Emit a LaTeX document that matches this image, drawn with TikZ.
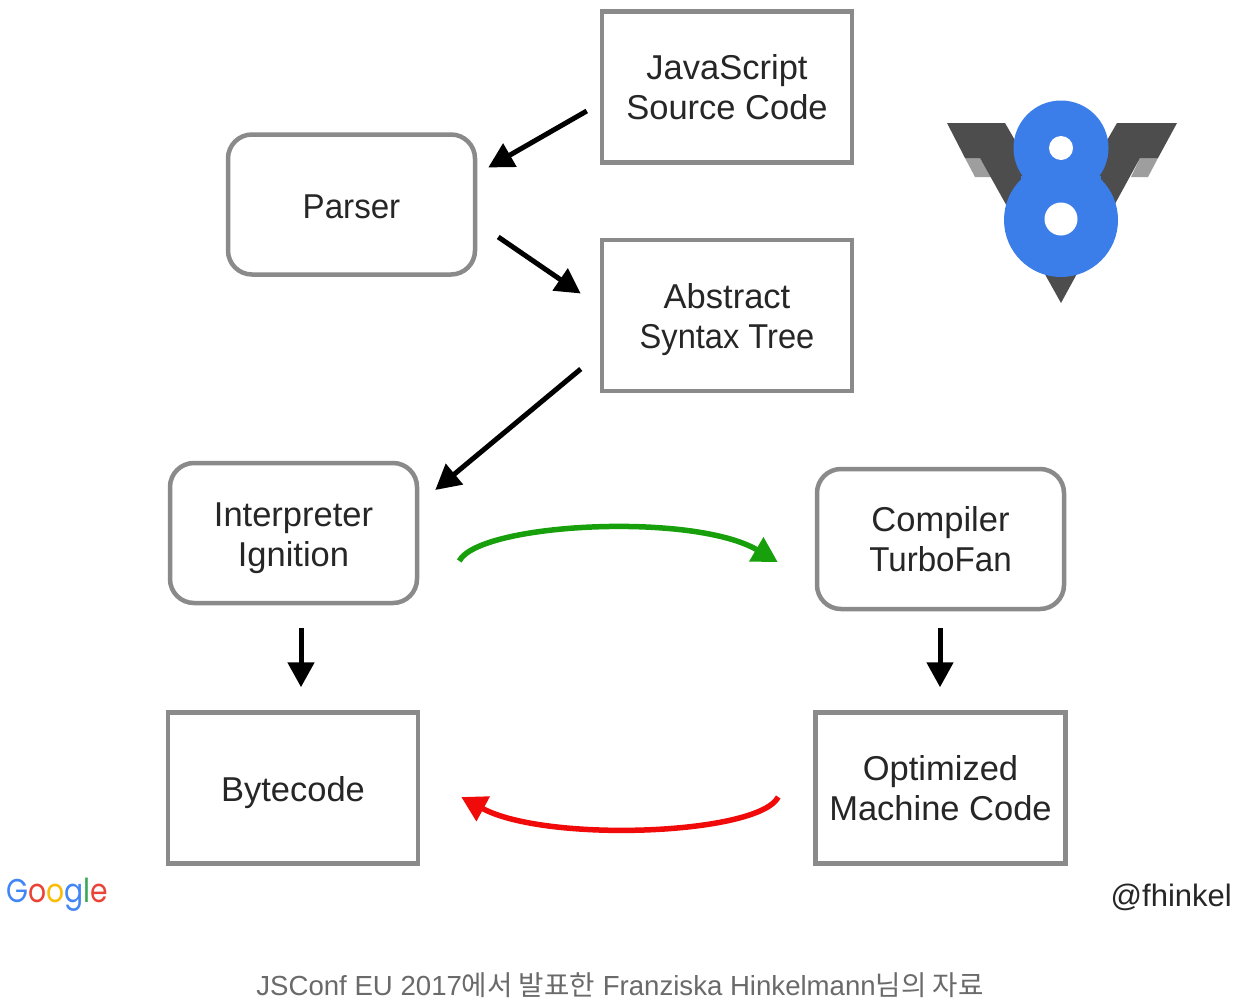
\documentclass[tikz,border=0pt]{standalone}
\usepackage{fontspec}
\usepackage{graphicx}
\setmainfont{Liberation Sans}
\newfontfamily\krfont{Noto Sans CJK KR}
\newfontfamily\gfont{Poppins}
\usetikzlibrary{arrows.meta}
\definecolor{boxgray}{HTML}{8A8A8A}
\definecolor{vdark}{HTML}{4D4D4D}
\definecolor{vlight}{HTML}{9E9E9E}
\definecolor{veblue}{HTML}{3B7EEA}
\definecolor{arrgreen}{HTML}{18A00C}
\definecolor{arrred}{HTML}{F00A0A}
\definecolor{gblue}{HTML}{4285F4}
\definecolor{gred}{HTML}{EA4335}
\definecolor{gyellow}{HTML}{FBBC05}
\definecolor{ggreen}{HTML}{34A853}
\definecolor{captext}{HTML}{6A6A6A}
\newcommand{\dn}[1]{\rule{0pt}{#1pt}}
\newcommand{\nar}[2]{\scalebox{#1}[1]{#2}}
\tikzset{
  boxtext/.style={font=\fontsize{34.5}{40.6}\selectfont, text=black!85, align=center, inner sep=0pt},
  sqbox/.style={boxtext, draw=boxgray, line width=4.5pt, minimum width=250pt, minimum height=151pt},
  rdbox/.style={boxtext, draw=boxgray, line width=4.5pt, rounded corners=24pt, minimum width=247pt, minimum height=140pt},
  blackarrow/.style={draw=black, line width=5pt, -{Triangle[length=25pt,width=26pt]}},
  greenarrow/.style={draw=arrgreen, line width=5.5pt, -{Triangle[length=25pt,width=27pt]}},
  redarrow/.style={draw=arrred, line width=5.5pt, -{Triangle[length=25pt,width=27pt]}},
}
\begin{document}
\begin{tikzpicture}[x=1pt,y=-1pt]
\useasboundingbox (0,0) rectangle (1242,1004);
\fill[white] (0,0) rectangle (1242,1004);
% nodes
\node[sqbox] (src) at (727,87) {JavaScript\\Source Code};
\node[rdbox] (parser) at (351.5,204.5) {\dn{28}\nar{0.96}{Parser}};
\node[sqbox] (ast) at (727,315.5) {\dn{33}Abstract\\\nar{0.945}{Syntax Tree}};
\node[rdbox] (interp) at (293.5,533) {\dn{34}Interpreter\\Ignition};
\node[rdbox] (comp) at (940.5,539) {Compiler\\\nar{0.96}{TurboFan}};
\node[sqbox] (byte) at (293,788) {\dn{34}Bytecode};
\node[sqbox] (opt) at (940.5,788) {Optimized\\Machine Code};
% connectors
\draw[blackarrow] ([shift={(-13,24)}]src.west) -- ([shift={(11,-37)}]parser.east);
\draw[blackarrow] ([shift={(21,32.5)}]parser.east) -- ([shift={(-19,-22)}]ast.west);
\draw[blackarrow] ([shift={(-19,53.5)}]ast.west) -- ([shift={(16,-43)}]interp.east);
\draw[blackarrow] ([shift={(7.5,23)}]interp.south) -- ([shift={(8,-23)}]byte.north);
\draw[blackarrow] ([shift={(-.5,17)}]comp.south) -- ([shift={(-.5,-23)}]opt.north);
\draw[greenarrow] ([shift={(40,28)}]interp.east) .. controls +(20,-38) and +(-85,-50) .. ([shift={(-37,23)}]comp.west);
\draw[redarrow] ([shift={(-35,9)}]opt.west) .. controls +(-20,38) and +(85,46) .. ([shift={(41,9)}]byte.east);
% V8 logo
\fill[vlight] (965,158) -- (980,158) -- (991,177) -- (975,177) -- cycle;
\fill[vlight] (1140,158) -- (1158,158) -- (1148,177) -- (1131,177) -- cycle;
\fill[vdark] (947,123) -- (1005,123) -- (1061,220) -- (1117,123) -- (1177,123) -- (1158,158) -- (1140,158)
  -- (1061,303) -- (980,158) -- (965,158) -- cycle;
\fill[veblue] (1061,148) circle[radius=47.5];
\fill[veblue] (1061,220) circle[radius=57];
\fill[veblue] (1021,176) -- (1101,176) -- (1101,185) -- (1021,185) -- cycle;
\fill[white] (1061,148) circle[radius=12];
\fill[white] (1061,219) circle[radius=16.5];
% texts
\node[inner sep=0pt,anchor=base west,font=\gfont\fontsize{33}{33}\selectfont] (google) at (6,902)
  {\scalebox{0.855}[1]{\textcolor{gblue}{G}\textcolor{gred}{o}\textcolor{gyellow}{o}\textcolor{gblue}{g}\textcolor{ggreen}{l}\textcolor{gred}{e}}};
\node[inner sep=0pt,anchor=base east,font=\fontsize{31}{31}\selectfont,text=black!85] (handle) at (1232,906) {@fhinkel};
\node[inner sep=0pt,anchor=base,font=\fontsize{27.6}{27.6}\selectfont,text=captext] (caption) at (620,995)
  {JSConf EU 2017{\krfont 에서 발표한} Franziska Hinkelmann{\krfont 님의 자료}};
\end{tikzpicture}
\end{document}
